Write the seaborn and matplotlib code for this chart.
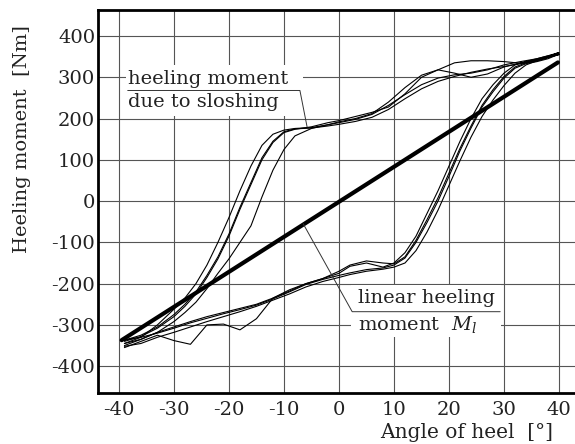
import numpy as np
import pandas as pd
import matplotlib
matplotlib.use("Agg")
import matplotlib.pyplot as plt
import seaborn as sns
from matplotlib.patches import Rectangle

# angle grids for the two branches of each sloshing cycle
angle_up = [-39, -36, -33, -30, -28, -26, -24, -22, -20, -18, -16, -14, -12, -10, -8, -5,
            -2, 0, 3, 6, 9, 12, 15, 18, 21, 24, 27, 30, 33, 36, 38, 40]
angle_dn = [40, 38, 36, 34, 32, 30, 28, 26, 24, 22, 20, 18, 16, 14, 12, 10, 8, 5, 2, 0,
            -3, -6, -9, -12, -15, -18, -21, -24, -27, -30, -33, -36, -39]

# heeling moment due to sloshing [Nm]
up_1 = [-337, -325, -305, -275, -250, -220, -180, -135, -80, -15, 45, 105, 145, 168, 175, 177,
        182, 186, 193, 203, 222, 248, 272, 290, 302, 312, 320, 326, 333, 342, 350, 356]
dn_1 = [356, 345, 338, 333, 322, 298, 265, 228, 177, 122, 60, 0, -52, -100, -138, -155, -162,
        -166, -174, -180, -190, -202, -220, -237, -252, -263, -273, -284, -295, -308, -320, -330, -337]
up_2 = [-345, -330, -300, -262, -235, -200, -155, -100, -40, 25, 85, 135, 162, 172, 176, 178,
        185, 190, 198, 210, 232, 258, 282, 298, 306, 310, 318, 330, 338, 345, 352, 360]
dn_2 = [360, 350, 340, 330, 310, 280, 245, 205, 155, 98, 38, -22, -75, -120, -150, -160, -165,
        -170, -178, -185, -195, -208, -225, -240, -255, -268, -280, -292, -305, -318, -330, -345, -352]
up_3 = [-350, -335, -318, -292, -270, -245, -212, -175, -140, -100, -60, 10, 75, 125, 158, 176,
        185, 192, 200, 212, 240, 275, 305, 318, 310, 300, 308, 325, 335, 343, 350, 358]
dn_3 = [358, 352, 345, 338, 330, 310, 282, 248, 200, 145, 85, 25, -30, -85, -125, -150, -160,
        -150, -158, -175, -188, -200, -215, -235, -285, -312, -298, -300, -347, -338, -325, -340, -355]
up_4 = [-340, -328, -308, -280, -255, -225, -185, -140, -85, -20, 40, 100, 142, 166, 174, 180,
        190, 195, 205, 215, 228, 260, 300, 318, 335, 340, 340, 338, 334, 340, 348, 355]
dn_4 = [355, 348, 340, 335, 325, 302, 270, 232, 182, 128, 68, 8, -45, -95, -135, -152, -150,
        -145, -155, -170, -188, -200, -218, -235, -250, -260, -270, -280, -292, -305, -318, -335, -345]

# linear heeling moment M_l
angle_lin = [-39.5, 39.8]
moment_lin = [-337, 336]

x_ticks = [-40, -30, -20, -10, 0, 10, 20, 30, 40]
y_ticks = [-400, -300, -200, -100, 0, 100, 200, 300, 400]

rows = []
for k, (up, dn) in enumerate([(up_1, dn_1), (up_2, dn_2), (up_3, dn_3), (up_4, dn_4)]):
    for i, (a, m) in enumerate(zip(angle_up + angle_dn, up + dn)):
        rows.append({"cycle": k, "step": i, "angle": a, "moment": m})
loops = pd.DataFrame(rows)
linear = pd.DataFrame({"angle": angle_lin, "moment": moment_lin})

sns.set_theme(style="white")
plt.rcParams["font.family"] = ["DejaVu Serif"]
plt.rcParams["mathtext.fontset"] = "dejavuserif"
plt.rcParams["axes.unicode_minus"] = False

fig = plt.figure(figsize=(5.75, 4.44), dpi=100)
ax = fig.add_axes([98 / 575, 51 / 444, 477 / 575, 383 / 444])

sns.lineplot(data=loops, x="angle", y="moment", units="cycle", estimator=None, sort=False,
             color="black", lw=0.8, ax=ax, zorder=3)
sns.lineplot(data=linear, x="angle", y="moment", sort=False, color="black", lw=3, ax=ax, zorder=4)

ax.set_xlim(-43.8, 42.9)
ax.set_ylim(-465, 463)
ax.set_xticks(x_ticks)
ax.set_yticks(y_ticks)
ax.grid(True, color="#555555", lw=0.8)
ax.set_axisbelow(True)
ax.tick_params(length=0, labelsize=14, colors="#222222")
ax.tick_params(axis="x", pad=6)
ax.tick_params(axis="y", pad=2)
for side in ["left", "bottom", "top"]:
    ax.spines[side].set_color("black")
    ax.spines[side].set_linewidth(2)
ax.spines["right"].set_visible(False)

ax.set_ylabel("Heeling moment  [Nm]", fontsize=14, color="#222222", va="center")
ax.yaxis.set_label_coords(-0.159, 0.663)
ax.set_xlabel("Angle of heel  [°]", fontsize=14.5, color="#222222", loc="right", va="center")
ax.xaxis.set_label_coords(0.955, -0.102)

# annotation: heeling moment due to sloshing
ax.add_patch(Rectangle((-38.8, 205), 32.3, 125, facecolor="white", edgecolor="none", zorder=2))
ax.text(-38.4, 297, "heeling moment", fontsize=14, va="center", ha="left", color="#222222", zorder=5)
ax.text(-38.4, 241, "due to sloshing", fontsize=14, va="center", ha="left", color="#222222", zorder=5)
ax.plot([-38.4, -7.1, -5.8], [268, 268, 180], color="#333333", lw=0.7, zorder=5)

# annotation: linear heeling moment
ax.add_patch(Rectangle((2.2, -330), 27.3, 127, facecolor="white", edgecolor="none", zorder=2))
ax.text(3.5, -234, "linear heeling", fontsize=14, va="center", ha="left", color="#222222", zorder=5)
ax.text(3.5, -300, "moment  $M_l$", fontsize=14, va="center", ha="left", color="#222222", zorder=5)
ax.plot([29.3, 2.4, -6.5], [-268, -268, -55], color="#333333", lw=0.7, zorder=5)

fig.savefig("out.png", dpi=100)
